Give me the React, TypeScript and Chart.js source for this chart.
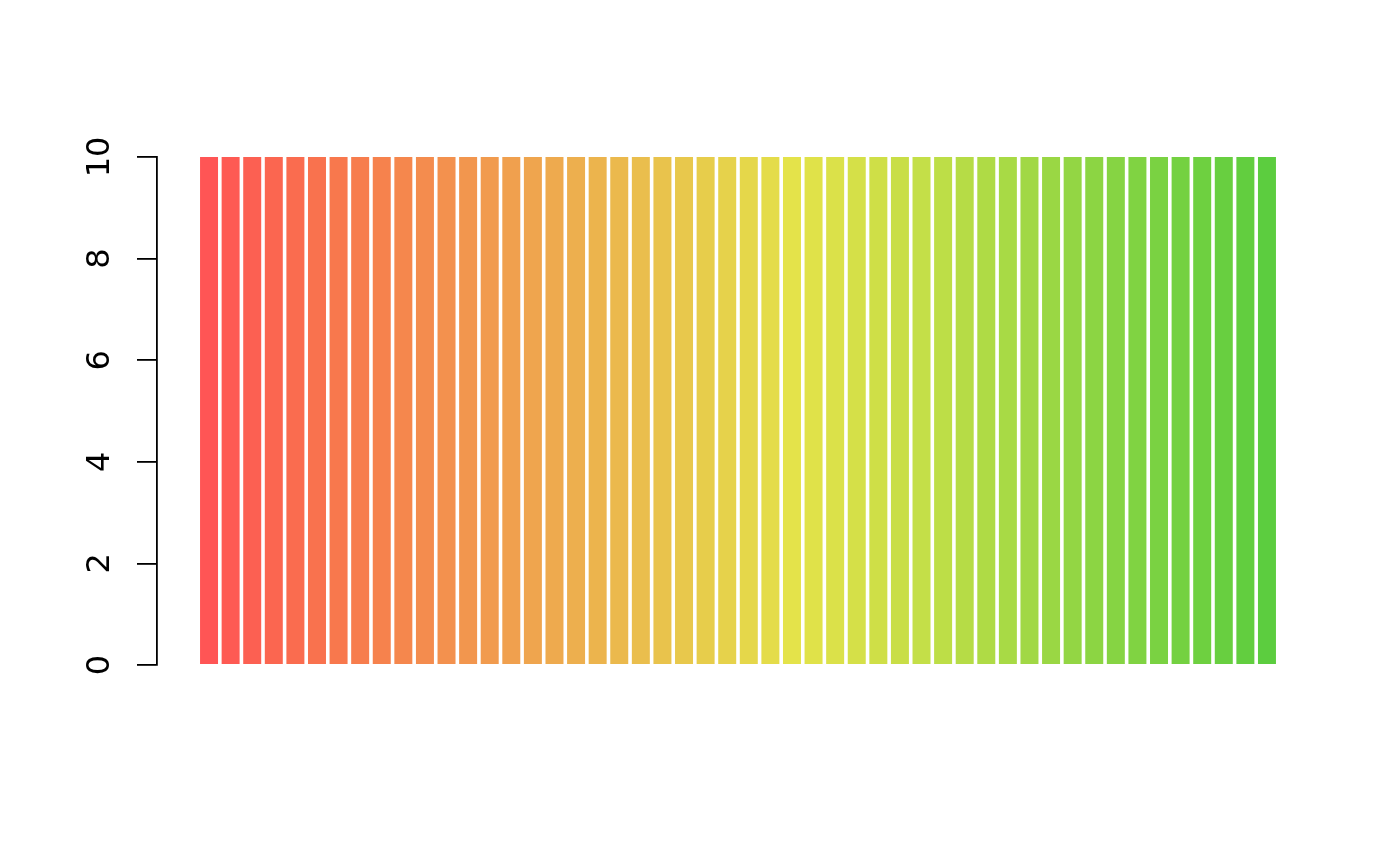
import React, { useEffect, useRef } from "react";
import { Chart, registerables } from "chart.js";

Chart.register(...registerables);

const categories: string[] = [
  "1", "2", "3", "4", "5", "6", "7", "8", "9", "10",
  "11", "12", "13", "14", "15", "16", "17", "18", "19", "20",
  "21", "22", "23", "24", "25", "26", "27", "28", "29", "30",
  "31", "32", "33", "34", "35", "36", "37", "38", "39", "40",
  "41", "42", "43", "44", "45", "46", "47", "48", "49", "50",
];

const heights: number[] = [
  10, 10, 10, 10, 10, 10, 10, 10, 10, 10,
  10, 10, 10, 10, 10, 10, 10, 10, 10, 10,
  10, 10, 10, 10, 10, 10, 10, 10, 10, 10,
  10, 10, 10, 10, 10, 10, 10, 10, 10, 10,
  10, 10, 10, 10, 10, 10, 10, 10, 10, 10,
];

const barColors: string[] = [
  "#FF5555", "#FE5A53", "#FC6052", "#FB6650", "#FA6C4F",
  "#F9724E", "#F8784D", "#F77D4D", "#F6824D", "#F5874D",
  "#F48C4E", "#F3914E", "#F2964E", "#F19B4E", "#F0A04E",
  "#EFA54E", "#EEAA4E", "#EDAF4E", "#ECB44D", "#EBB94D",
  "#EABE4D", "#E9C34C", "#E8C84C", "#E7CD4B", "#E6D24B",
  "#E5D74A", "#E4DC4A", "#E4E34A", "#E0E249", "#DBE149",
  "#D5E048", "#CFDF47", "#C9DE46", "#C4DF48", "#BDDE47",
  "#B6DC46", "#AFDB45", "#A8DA45", "#A1D845", "#9AD744",
  "#93D644", "#8CD543", "#86D443", "#80D342", "#7AD242",
  "#74D141", "#6ED040", "#68CF40", "#62CE3F", "#5CCD3F",
];

const yTicks: number[] = [0, 2, 4, 6, 8, 10];

// R barplot geometry: bar width 1, space 0.2, 4% axis extension
const BAR_WIDTH = 1;
const BAR_SPACE = 0.2;

export default function App() {
  const canvasRef = useRef<HTMLCanvasElement | null>(null);

  useEffect(() => {
    const canvas = canvasRef.current;
    if (!canvas) return;

    const mids = categories.map(
      (_, i) => BAR_SPACE + i * (BAR_WIDTH + BAR_SPACE) + BAR_WIDTH / 2
    );
    const lo = BAR_SPACE;
    const hi = mids[mids.length - 1] + BAR_WIDTH / 2;
    const ext = (hi - lo) * 0.04;
    const xMin = lo - ext;
    const xMax = hi + ext;

    const chart = new Chart(canvas, {
      type: "bar",
      data: {
        datasets: [
          {
            data: heights.map((h, i) => ({ x: mids[i], y: h })),
            backgroundColor: barColors,
            borderWidth: 0,
            categoryPercentage: 1,
            barPercentage: BAR_WIDTH / (BAR_WIDTH + BAR_SPACE),
          },
        ],
      },
      options: {
        responsive: false,
        animation: false,
        events: [],
        layout: { padding: { left: 0, top: 157, right: 81, bottom: 201 } },
        plugins: { legend: { display: false }, tooltip: { enabled: false } },
        scales: {
          x: {
            type: "linear",
            display: false,
            offset: false,
            bounds: "data",
            min: xMin,
            max: xMax,
            afterBuildTicks: (scale: any) => {
              scale.ticks = [{ value: xMin }, { value: xMax }];
            },
            afterDataLimits: (scale: any) => {
              scale.min = xMin;
              scale.max = xMax;
            },
          },
          y: {
            type: "linear",
            min: 0,
            max: 10,
            afterBuildTicks: (scale: any) => {
              scale.ticks = yTicks.map((v) => ({ value: v }));
            },
            afterFit: (scale: any) => {
              scale.width = 157;
            },
            border: { display: true, color: "#000000", width: 1.8 },
            grid: {
              drawOnChartArea: false,
              drawTicks: true,
              tickLength: 20,
              color: "#000000",
              lineWidth: 1.8,
            },
            ticks: {
              autoSkip: false,
              minRotation: 90,
              maxRotation: 90,
              crossAlign: "center",
              padding: 16,
              color: "#000000",
              font: { family: "DejaVu Sans", size: 32 },
              callback: (v: any) => String(v),
            },
          },
        },
      },
    });

    return () => chart.destroy();
  }, []);

  return (
    <div style={{ position: "absolute", left: 0, top: 0, width: 1400, height: 866, background: "#ffffff" }}>
      <canvas ref={canvasRef} width={1400} height={866} style={{ display: "block", width: 1400, height: 866 }} />
    </div>
  );
}
